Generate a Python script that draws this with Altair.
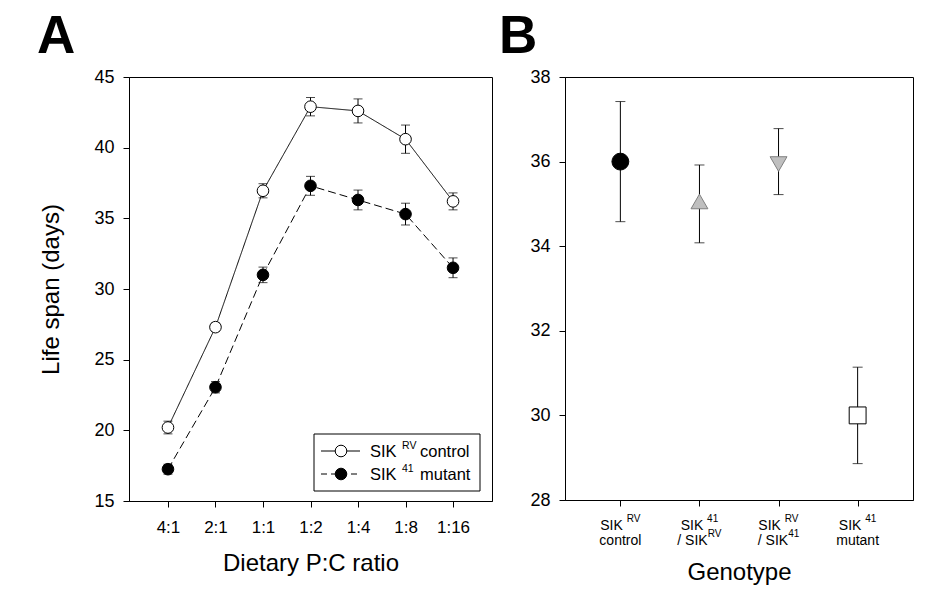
import altair as alt
import pandas as pd

# ---------------- data ----------------
ratios = ["4:1", "2:1", "1:1", "1:2", "1:4", "1:8", "1:16"]
control_mean = [20.2, 27.3, 36.95, 42.9, 42.6, 40.6, 36.2]
control_err = [0.45, 0.3, 0.5, 0.65, 0.85, 1.0, 0.6]
mutant_mean = [17.25, 23.05, 31.0, 37.3, 36.3, 35.3, 31.5]
mutant_err = [0.35, 0.4, 0.55, 0.67, 0.7, 0.77, 0.7]
series_names = ["SIK RV control", "SIK 41 mutant"]
legend_parts = [("SIK ", "RV", "control"), ("SIK ", "41", "mutant")]

genotypes = ["SIK RV control", "SIK 41 / SIK RV", "SIK RV / SIK 41", "SIK 41 mutant"]
genotype_mean = [36.0, 35.0, 36.0, 30.0]
genotype_err = [1.42, 0.92, 0.78, 1.14]
genotype_label_parts = [
    ("SIK ", "RV", "control", ""),
    ("SIK ", "41", "/ SIK", "RV"),
    ("SIK ", "RV", "/ SIK", "41"),
    ("SIK ", "41", "mutant", ""),
]
ya_ticks = [15, 20, 25, 30, 35, 40, 45]
yb_ticks = [28, 30, 32, 34, 36, 38]
panel_letters = ["A", "B"]

# ---------------- style ----------------
F = "Liberation Sans, Arial, sans-serif"
A_W, A_H = 363, 424
B_W, B_H = 348, 423
TITLE_FS = 24

CHAR_W = {"S": .667, "I": .278, "K": .667, " ": .278, "/": .278, "R": .722, "V": .667,
          "4": .556, "1": .556, "c": .5, "o": .556, "n": .556, "t": .278, "r": .333,
          "l": .222, "m": .833, "u": .556, "a": .556}


def text_w(s, size):
    return sum(CHAR_W.get(c, 0.556) for c in s) * size


# ---------------- panel A ----------------
rows = []
for s, means, errs in [(series_names[0], control_mean, control_err),
                       (series_names[1], mutant_mean, mutant_err)]:
    for i, (r, m, e) in enumerate(zip(ratios, means, errs)):
        rows.append(dict(ratio=r, idx=i, series=s, mean=m, lo=m - e, hi=m + e))
df_a = pd.DataFrame(rows)

xa = alt.X("ratio:N", sort=ratios, scale=alt.Scale(type="point", padding=0.82),
           axis=alt.Axis(title="Dietary P:C ratio", labelAngle=0, labelFontSize=17,
                         labelPadding=12, titleFontSize=TITLE_FS, titlePadding=16))
ya_scale = alt.Scale(domain=[15, 45], nice=False, zero=False)
ya_axis = alt.Axis(title="Life span (days)", values=ya_ticks, labelFontSize=18,
                   labelPadding=9, titleFontSize=TITLE_FS, titlePadding=30)

base_a = alt.Chart(df_a)
lines_a = base_a.mark_line(color="black", strokeWidth=1).encode(
    x=xa, y=alt.Y("mean:Q", scale=ya_scale, axis=ya_axis), detail="series:N",
    order=alt.Order("idx:Q"),
    strokeDash=alt.StrokeDash("series:N", scale=alt.Scale(domain=series_names, range=[[1, 0], [8, 4]]),
                              legend=None))
err_a = base_a.mark_rule(color="black", strokeWidth=1).encode(
    x=xa, y=alt.Y("lo:Q", scale=ya_scale, axis=ya_axis), y2="hi:Q")
cap_lo_a = base_a.mark_tick(color="black", size=9, thickness=1).encode(
    x=xa, y=alt.Y("lo:Q", scale=ya_scale, axis=ya_axis))
cap_hi_a = base_a.mark_tick(color="black", size=9, thickness=1).encode(
    x=xa, y=alt.Y("hi:Q", scale=ya_scale, axis=ya_axis))
pts_a = base_a.mark_point(shape="circle", filled=True, size=135, stroke="black",
                          strokeWidth=1, opacity=1).encode(
    x=xa, y=alt.Y("mean:Q", scale=ya_scale, axis=ya_axis),
    fill=alt.Fill("series:N", scale=alt.Scale(domain=series_names, range=["white", "black"]), legend=None))

# legend (manual)
leg_df = pd.DataFrame({"series": series_names,
                       "main": [p[0] for p in legend_parts],
                       "sup": [p[1] for p in legend_parts],
                       "word": [p[2] for p in legend_parts]})
leg_layers = [
    alt.Chart(leg_df.head(1)).mark_rect(fill="white", stroke="black", strokeWidth=1).encode(
        x=alt.value(185), x2=alt.value(351), y=alt.value(357), y2=alt.value(414))
]
row_y = [374, 397]
fills = ["white", "black"]
dashes = [[1, 0], [6, 4]]
for k in range(2):
    d = leg_df.iloc[[k]]
    ry = row_y[k]
    leg_layers.append(alt.Chart(d).mark_rule(color="black", strokeWidth=1, strokeDash=dashes[k]).encode(
        x=alt.value(192), x2=alt.value(231), y=alt.value(ry)))
    leg_layers.append(alt.Chart(d).mark_point(shape="circle", filled=True, size=135, fill=fills[k],
                                              stroke="black", strokeWidth=1, opacity=1).encode(
        x=alt.value(212), y=alt.value(ry)))
    leg_layers.append(alt.Chart(d).mark_text(align="left", baseline="middle", font=F, fontSize=16.5,
                                             color="black").encode(
        x=alt.value(241), y=alt.value(ry + 1), text="main:N"))
    leg_layers.append(alt.Chart(d).mark_text(align="left", baseline="alphabetic", font=F, fontSize=10.5,
                                             color="black").encode(
        x=alt.value(273), y=alt.value(ry - 2), text="sup:N"))
    leg_layers.append(alt.Chart(d).mark_text(align="left", baseline="middle", font=F, fontSize=16.5,
                                             color="black").encode(
        x=alt.value(291), y=alt.value(ry + 1), text="word:N"))

letter_a = alt.Chart(pd.DataFrame({"t": [panel_letters[0]]})).mark_text(
    align="left", baseline="top", font=F, fontSize=53, fontWeight="bold", color="black").encode(
    x=alt.value(-92), y=alt.value(-66), text="t:N")

panel_a = alt.layer(lines_a, err_a, cap_lo_a, cap_hi_a, pts_a, *leg_layers, letter_a).properties(
    width=A_W, height=A_H)

# ---------------- panel B ----------------
df_b = pd.DataFrame({"genotype": genotypes, "mean": genotype_mean,
                     "lo": [m - e for m, e in zip(genotype_mean, genotype_err)],
                     "hi": [m + e for m, e in zip(genotype_mean, genotype_err)]})

xb = alt.X("genotype:N", sort=genotypes, scale=alt.Scale(type="point", padding=0.7),
           axis=alt.Axis(title="Genotype", labels=False, titleFontSize=TITLE_FS, titlePadding=54))
yb_scale = alt.Scale(domain=[28, 38], nice=False, zero=False)
yb_axis = alt.Axis(title=None, values=yb_ticks, labelFontSize=18, labelPadding=9)

TRI_UP = "M0,-1.155L1,0.577L-1,0.577Z"
TRI_DOWN = "M0,1.155L1,-0.577L-1,-0.577Z"

base_b = alt.Chart(df_b)
err_b = base_b.mark_rule(color="black", strokeWidth=1).encode(
    x=xb, y=alt.Y("lo:Q", scale=yb_scale, axis=yb_axis), y2="hi:Q")
cap_lo_b = base_b.mark_tick(color="black", size=10, thickness=1).encode(
    x=xb, y=alt.Y("lo:Q", scale=yb_scale, axis=yb_axis))
cap_hi_b = base_b.mark_tick(color="black", size=10, thickness=1).encode(
    x=xb, y=alt.Y("hi:Q", scale=yb_scale, axis=yb_axis))
pts_b = base_b.mark_point(filled=True, strokeWidth=1, opacity=1).encode(
    x=xb, y=alt.Y("mean:Q", scale=yb_scale, axis=yb_axis),
    shape=alt.Shape("genotype:N", scale=alt.Scale(domain=genotypes,
                                                  range=["circle", TRI_UP, TRI_DOWN, "square"]), legend=None),
    fill=alt.Fill("genotype:N", scale=alt.Scale(domain=genotypes,
                                                range=["black", "#bfbfbf", "#bfbfbf", "white"]), legend=None),
    stroke=alt.Stroke("genotype:N", scale=alt.Scale(domain=genotypes,
                                                    range=["black", "#7f7f7f", "#7f7f7f", "black"]), legend=None),
    size=alt.Size("genotype:N", scale=alt.Scale(domain=genotypes, range=[285, 285, 285, 205]), legend=None))

label_layers = []
MAIN_FS, SUP_FS = 14, 10
for g, parts in zip(genotypes, genotype_label_parts):
    for line, (main, sup) in enumerate([(parts[0], parts[1]), (parts[2], parts[3])]):
        total = text_w(main, MAIN_FS) + text_w(sup, SUP_FS)
        left = -total / 2
        y_main = B_H + (30 if line == 0 else 45)
        label_layers.append(alt.Chart(pd.DataFrame({"genotype": [g], "t": [main]})).mark_text(
            align="left", baseline="alphabetic", font=F, fontSize=MAIN_FS, color="black", dx=left).encode(
            x=xb, y=alt.value(y_main), text="t:N"))
        if sup:
            label_layers.append(alt.Chart(pd.DataFrame({"genotype": [g], "t": [sup]})).mark_text(
                align="left", baseline="alphabetic", font=F, fontSize=SUP_FS, color="black",
                dx=left + text_w(main, MAIN_FS)).encode(
                x=xb, y=alt.value(y_main - 8.5), text="t:N"))

letter_b = alt.Chart(pd.DataFrame({"t": [panel_letters[1]]})).mark_text(
    align="left", baseline="top", font=F, fontSize=53, fontWeight="bold", color="black").encode(
    x=alt.value(-66), y=alt.value(-66), text="t:N")

panel_b = alt.layer(err_b, cap_lo_b, cap_hi_b, pts_b, *label_layers, letter_b).properties(
    width=B_W, height=B_H)

chart = alt.hconcat(panel_a, panel_b, spacing=73, bounds="flush").resolve_scale(
    fill="independent", stroke="independent", shape="independent", size="independent",
    strokeDash="independent",
).properties(
    padding={"left": 36, "top": 10, "right": 5, "bottom": 5},
    background="white",
).configure_axis(
    domainColor="black", tickColor="black", labelColor="black", titleColor="black",
    grid=False, labelFont=F, titleFont=F, titleFontWeight="normal", tickSize=6,
    domainWidth=1, tickWidth=1,
).configure_view(stroke="black", strokeWidth=1)

chart.save("out.html", embed_options={"renderer": "svg", "actions": False})
